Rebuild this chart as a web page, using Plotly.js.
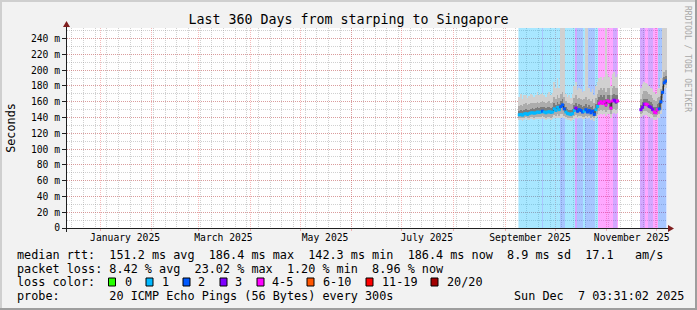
<!DOCTYPE html>
<html><head><meta charset="utf-8">
<script src="https://cdn.plot.ly/plotly-3.0.1.min.js"></script>
<style>html,body{margin:0;padding:0;background:#f2f2f2;} #chart{width:697px;height:310px;}</style>
</head><body><div id="chart"></div>
<script>
// ---------------- DATA ----------------
const titleText = "Last 360 Days from starping to Singapore";
const rangeStart = "2024-12-12 03:31:02";
const rangeEnd = "2025-12-07 03:31:02";

const monthStarts = ["2025-01-01","2025-02-01","2025-03-01","2025-04-01","2025-05-01","2025-06-01",
  "2025-07-01","2025-08-01","2025-09-01","2025-10-01","2025-11-01","2025-12-01"];
const monthLabelDates = ["2025-01-16","2025-03-16","2025-05-16","2025-07-16","2025-09-16","2025-11-16"];
const monthLabels = ["January 2025","March 2025","May 2025","July 2025","September 2025","November 2025"];

const yTickVals = [0,20,40,60,80,100,120,140,160,180,200,220,240];
const yTickText = ["0","20 m","40 m","60 m","80 m","100 m","120 m","140 m","160 m","180 m","200 m","220 m","240 m"];

// daily steps; segment 1 starts 2025-09-09 (60 days), segment 2 starts 2025-11-21 (16 days)
const seg1Start = "2025-09-09";
const seg2Start = "2025-11-21";

// pings lost out of 20
const lossSeg1 = [1,1,1,1,1,1,1,1,1,1,1,1,1,1, 2, 1,1,1,1,1,1,1,1,1,1, 2,2,2, 1,1,1,1,1,1, 3, 2,2,2,2, 1,
  2,2,2,2,2,2, 1,1, 4,4,4,4,4, 4,4,4,4, 3,3, 4];
const lossSeg2 = [3,3,3,4,4,3,3,3,4,4,4,2,2,2,2,2];

// median rtt (ms)
const medSeg1 = [143.5,144,143,144.5,145,144,145,146,146,145.5,146,147,146.5,147,
  148,147,146,147,147.5,146.5,147,151,149,153,150,
  154,156,151,147,145,144.5,144,145,149,152,
  148,150,149,147,148,150,147,149,146,148,144,150,154,158,160,
  158,160,156,161,160,152,161,162,160,161];
const medSeg2 = [150,153,157,157,156,154,153,150,147,146,150,151,160,172,184,186.4];

// smoke (ping distribution) levels, ms
const minSeg1 = [137,137,136,137,138,137,137,138,138,137,138,138,138,138, 139,138,137,138,138,137,138,139,139,140,139,
  140,141,139,138,137,137,136,137,138,139, 138,139,139,138,138,139,138,139,137,138,136,139,141,143,144,
  143,144,142,144,144,140,145,146,145,146];
const p10Seg1 = [140,140,139,140,141,140,140,141,141,140,141,141,141,141, 142,141,140,141,141,140,141,143,142,144,142,
  144,145,142,141,140,140,139,140,142,143, 141,142,142,141,141,142,141,142,140,141,139,142,145,148,149,
  148,149,147,150,149,144,150,151,150,151];
const p25Seg1 = [142,142.5,141.5,143,143.5,142.5,143.5,144.5,144.5,144,144.5,145.5,145,145.5,
  146.5,145.5,144.5,145.5,146,145,145.5,149,147.5,151,148.5,
  152,154,149,145.5,143.5,143,142.5,143.5,147,150,
  146,148,147,145.5,146.5,148,145.5,147,144.5,146.5,142.5,148,152,155.5,157.5,
  155.5,157.5,153.5,158.5,157.5,150,158.5,159.5,157.5,158.5];
const p75Seg1 = [148,149,148,150,151,149,150,151,152,151,152,153,152,153, 154,153,152,153,154,152,153,158,156,160,157,
  161,163,157,153,151,150,150,151,156,159, 155,157,156,154,155,157,154,156,153,155,151,157,162,166,168,
  166,168,164,169,168,160,169,170,168,169];
const p90Seg1 = [155,156,155,157,158,156,157,159,159,158,159,160,159,160, 161,160,159,160,161,159,160,166,164,168,165,
  170,173,166,161,158,158,157,159,165,168, 163,165,164,162,163,166,162,164,161,163,158,165,170,175,177,
  175,177,172,178,177,168,178,180,177,178];
const maxSeg1 = [166,170,164,169,168,165,167,170,168,166,169,172,168,170, 171,169,166,170,172,168,171,185,178,190,177,
  300,300,300,170,166,168,165,170,180,185, 175,178,176,172,174,300,300,178,172,176,168,180,185,190,192,
  188,192,300,195,192,180,195,198,192,195];

const minSeg2 = [141,142,143,143,142,141,140,139,137,137,139,140,145,160,176,178];
const p10Seg2 = [144,146,148,148,147,146,145,143,141,141,143,144,150,165,179,181];
const p25Seg2 = [148,151,155,155,154,152,151,148,145,144,148,149,157,169,182,184];
const p75Seg2 = [156,160,164,164,163,161,160,157,154,153,157,158,167,180,191,193];
const p90Seg2 = [164,170,174,174,172,170,168,165,162,161,165,166,176,190,198,200];
const maxSeg2 = [178,182,185,184,182,180,178,176,172,170,176,178,190,300,300,300];

const lossLabels = ["0","1","2","3","4-5","6-10","11-19","20/20"];
const lossColors = ["#26ff00","#00b8ff","#0059ff","#7e00ff","#ff00ff","#ff5500","#ff0000","#a10000"];
const lossUpper = [0,1,2,3,5,10,19,20];

const legendRtt = "median rtt:  151.2 ms avg  186.4 ms max  142.3 ms min  186.4 ms now  8.9 ms sd  17.1   am/s";
const legendLoss = "packet loss: 8.42 % avg  23.02 % max  1.20 % min  8.96 % now";
const legendProbe = "probe:       20 ICMP Echo Pings (56 Bytes) every 300s";
const legendDate = "Sun Dec  7 03:31:02 2025";
const watermark = "RRDTOOL / TOBI OETIKER";

// ---------------- BUILD ----------------
const DAY = 86400000;
function dayStr(start, n, hour){
  const d = new Date(Date.parse(start + "T00:00:00Z") + n*DAY);
  return d.toISOString().slice(0,10) + " " + hour;
}
const gapDays = Math.round((Date.parse(seg2Start) - Date.parse(seg1Start))/DAY) - lossSeg1.length;
function join(a, b){ return a.concat(new Array(gapDays).fill(null), b); }
const nDays = lossSeg1.length + gapDays + lossSeg2.length;
const xs = []; for(let i=0;i<nDays;i++) xs.push(dayStr(seg1Start, i, "12:00"));

const loss = join(lossSeg1, lossSeg2);
const med = join(medSeg1, medSeg2);
const sMin = join(minSeg1, minSeg2), s10 = join(p10Seg1, p10Seg2), s25 = join(p25Seg1, p25Seg2);
const s75 = join(p75Seg1, p75Seg2), s90 = join(p90Seg1, p90Seg2), sMax = join(maxSeg1, maxSeg2);

function bucket(p){ if(p===null) return null; for(let i=0;i<lossUpper.length;i++) if(p<=lossUpper[i]) return i; return 7; }
const lossIdx = loss.map(bucket);

function hexA(h,a){ const r=parseInt(h.slice(1,3),16),g=parseInt(h.slice(3,5),16),b=parseInt(h.slice(5,7),16); return `rgba(${r},${g},${b},${a})`; }
const cs = [];
lossColors.forEach((c,i)=>{ cs.push([i/8, hexA(c,0.34)]); cs.push([(i+1)/8, hexA(c,0.34)]); });

function band(lo, hi, color){
  return {type:'bar', x:xs, base:lo, y:lo.map((v,i)=> v===null?null:hi[i]-v), width:DAY,
    marker:{color:color, line:{width:0}}, hoverinfo:'skip', showlegend:false};
}

const MONO = "DejaVu Sans Mono";
const GRID = "rgba(143,143,143,0.42)";
const MGRID = "rgba(232,79,79,0.4)";

const traces = [
  {type:'heatmap', x:xs, y:[0,1000], z:[lossIdx], zmin:-0.5, zmax:7.5, colorscale:cs, showscale:false,
   hoverinfo:'skip', zsmooth:false},
  band(sMin, sMax, '#d0d0d0'),
  band(s10, s90, '#acacac'),
  band(s25, s75, '#7c7c7c'),
  {type:'scatter', mode:'lines', x:xs, y:med, line:{color:'#202020', width:1, shape:'hvh'},
   connectgaps:false, hoverinfo:'skip', showlegend:false},
  {type:'scatter', mode:'markers', x:xs, y:med,
   marker:{symbol:'square', size:3, color:lossIdx.map(i=> i===null?'rgba(0,0,0,0)':lossColors[i]), line:{width:0}},
   hoverinfo:'skip', showlegend:false},
  {type:'scatter', x:[], y:[], xaxis:'x2', showlegend:false, hoverinfo:'skip'}
];

// pixel helpers (plot area 67..667 x 28..228)
const px = x => (x-67)/600;
const py = y => (228-y)/200;

const shapes = [
  {type:'rect', xref:'paper', yref:'paper', x0:px(0), x1:px(697), y0:py(0), y1:py(2), fillcolor:'#cfcfcf', line:{width:0}},
  {type:'rect', xref:'paper', yref:'paper', x0:px(0), x1:px(2), y0:py(0), y1:py(310), fillcolor:'#cfcfcf', line:{width:0}},
  {type:'rect', xref:'paper', yref:'paper', x0:px(0), x1:px(697), y0:py(308), y1:py(310), fillcolor:'#9e9e9e', line:{width:0}},
  {type:'rect', xref:'paper', yref:'paper', x0:px(695), x1:px(697), y0:py(0), y1:py(310), fillcolor:'#9e9e9e', line:{width:0}},
  {type:'line', xref:'paper', yref:'paper', x0:px(62.5), x1:px(669), y0:py(228.5), y1:py(228.5), line:{color:'#1f1f1f', width:1}},
  {type:'line', xref:'paper', yref:'paper', x0:px(66.5), x1:px(66.5), y0:py(232), y1:py(26), line:{color:'#1f1f1f', width:1}},
  {type:'path', xref:'paper', yref:'paper', path:`M ${px(668)} ${py(225)} L ${px(674)} ${py(228.5)} L ${px(668)} ${py(232)} Z`, fillcolor:'#801f1f', line:{width:0}},
  {type:'path', xref:'paper', yref:'paper', path:`M ${px(63)} ${py(27)} L ${px(66.5)} ${py(21)} L ${px(70)} ${py(27)} Z`, fillcolor:'#801f1f', line:{width:0}}
];

const nb = s => s.replace(/ /g, '\u00a0');
const annotations = [
  {text:nb(legendRtt), x:px(15), y:py(254.5)},
  {text:nb(legendLoss), x:px(15), y:py(268.5)},
  {text:nb("loss color:"), x:px(15), y:py(282)},
  {text:nb(legendProbe), x:px(15), y:py(296)},
  {text:nb(legendDate), x:px(512), y:py(296)}
].map(a=>Object.assign({xref:'paper', yref:'paper', xanchor:'left', yanchor:'middle', showarrow:false,
  font:{family:MONO, size:11.8, color:'#000'}}, a));

const sqX = [108.5,146,183,220,257,307,366,431];
const lblX = [124,161,197.3,234.3,270.7,321.7,380.7,445.7];
lossLabels.forEach((l,i)=>{
  shapes.push({type:'rect', xref:'paper', yref:'paper', x0:px(sqX[i]), x1:px(sqX[i]+7), y0:py(278), y1:py(286),
    fillcolor:lossColors[i], line:{color:'#000', width:1}});
  annotations.push({text:nb(l), x:px(lblX[i]-1), y:py(282), xref:'paper', yref:'paper', xanchor:'left', yanchor:'middle',
    showarrow:false, font:{family:MONO, size:11.8, color:'#000'}});
});
annotations.push({text:watermark, x:px(688), y:py(59), xref:'paper', yref:'paper', xanchor:'center', yanchor:'middle',
  textangle:90, showarrow:false, font:{family:MONO, size:8, color:'#a8a8a8'}});

const layout = {
  width:697, height:310,
  margin:{l:67, r:30, t:28, b:82, pad:0},
  paper_bgcolor:'#f2f2f2', plot_bgcolor:'#ffffff',
  barmode:'overlay', bargap:0, showlegend:false,
  title:{text:titleText, x:0.5, xref:'container', xanchor:'center', y:1-19/310, yref:'container', yanchor:'middle',
    font:{family:MONO, size:13.3, color:'#000'}},
  xaxis:{type:'date', range:[rangeStart, rangeEnd], tickmode:'array', tickvals:monthStarts, showticklabels:false,
    showgrid:true, gridcolor:MGRID, griddash:'1px,1px', gridwidth:1, ticks:'outside', ticklen:2, tickcolor:MGRID,
    zeroline:false, showline:false, fixedrange:true,
    minor:{tickmode:'linear', tick0:'2024-12-15', dtick:7*DAY, showgrid:true, gridcolor:GRID, griddash:'1px,1px', gridwidth:1, ticks:''}},
  xaxis2:{type:'date', range:[rangeStart, rangeEnd], overlaying:'x', anchor:'y', side:'bottom', tickmode:'array',
    tickvals:monthLabelDates, ticktext:monthLabels, showgrid:false, ticks:'', zeroline:false, showline:false,
    tickfont:{family:MONO, size:9.7, color:'#000'}, ticklabelstandoff:2},
  yaxis:{range:[0,253.5], tickmode:'array', tickvals:yTickVals, ticktext:yTickText, showgrid:true, gridcolor:MGRID,
    griddash:'1px,1px', gridwidth:1, ticks:'outside', ticklen:4, tickcolor:'#1f1f1f', zeroline:false, showline:false,
    tickfont:{family:MONO, size:9.7, color:'#000'}, fixedrange:true,
    title:{text:'Seconds', font:{family:MONO, size:11.8, color:'#000'}, standoff:12},
    minor:{tickmode:'linear', tick0:0, dtick:10, showgrid:true, gridcolor:GRID, griddash:'1px,1px', gridwidth:1, ticks:''}},
  shapes:shapes, annotations:annotations
};

Plotly.newPlot('chart', traces, layout, {staticPlot:true, displayModeBar:false});
</script></body></html>
